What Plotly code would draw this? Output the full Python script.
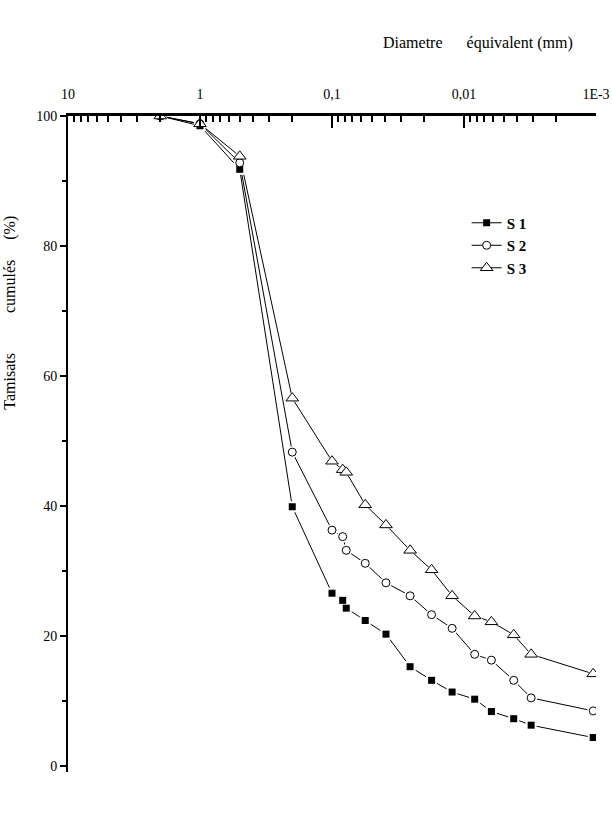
import plotly.graph_objects as go

# Data
diam = [2, 1, 0.5, 0.2, 0.1, 0.083, 0.078, 0.056, 0.039, 0.0256, 0.0176,
        0.0123, 0.0083, 0.0062, 0.0042, 0.0031, 0.00105]
s1 = [100, 98.5, 91.8, 39.9, 26.6, 25.5, 24.3, 22.4, 20.3, 15.3, 13.2,
      11.4, 10.3, 8.4, 7.3, 6.3, 4.4]
s2 = [100, 98.8, 92.8, 48.3, 36.3, 35.3, 33.2, 31.2, 28.2, 26.2, 23.3,
      21.2, 17.2, 16.3, 13.2, 10.5, 8.5]
s3 = [100, 98.8, 93.8, 56.6, 46.9, 45.6, 45.2, 40.2, 37.1, 33.2, 30.2,
      26.2, 23.1, 22.2, 20.2, 17.2, 14.2]

series_names = ["S 1", "S 2", "S 3"]
series_vals = [s1, s2, s3]

x_tickvals = [10, 1, 0.1, 0.01, 0.001]
x_ticktext = ["10", "1", "0,1", "0,01", "1E-3"]
y_tickvals = [0, 20, 40, 60, 80, 100]

FONT = "Liberation Serif, Times New Roman, serif"
styles = [
    dict(symbol="square", size=7, color="black", line=dict(color="black", width=0)),
    dict(symbol="circle", size=8, color="white", line=dict(color="black", width=1)),
    dict(symbol="triangle-up", size=11, color="white", line=dict(color="black", width=1)),
]
gap_sizes = [11, 12, 14]

fig = go.Figure()

# lines
for name, vals in zip(series_names, series_vals):
    fig.add_trace(go.Scatter(x=diam, y=vals, mode="lines",
                             line=dict(color="black", width=1),
                             showlegend=False, hoverinfo="skip"))
# white gaps around markers
for vals, gs, st in zip(series_vals, gap_sizes, styles):
    fig.add_trace(go.Scatter(x=diam, y=vals, mode="markers",
                             marker=dict(symbol=st["symbol"], size=gs, color="white",
                                         line=dict(width=0)),
                             showlegend=False, hoverinfo="skip"))
# markers
for name, vals, st in zip(series_names, series_vals, styles):
    fig.add_trace(go.Scatter(x=diam, y=vals, mode="markers", marker=st,
                             showlegend=False, name=name))
# legend entries
for i, (name, st) in enumerate(zip(series_names, styles)):
    fig.add_trace(go.Scatter(x=[None], y=[None], mode="lines+markers", name=name,
                             marker=st, line=dict(color="black", width=1),
                             legendgroup=f"g{i}"))

minor_x = [m * 10 ** e for e in range(-3, 1) for m in range(2, 10)]

fig.update_layout(
    width=612, height=840,
    margin=dict(l=68, r=16, t=116, b=68),
    paper_bgcolor="white", plot_bgcolor="white",
    font=dict(family=FONT, size=14, color="black"),
    xaxis=dict(
        type="log", range=[1, -3], side="top", automargin=False,
        showgrid=False, zeroline=False,
        showline=True, linecolor="black", linewidth=2.5,
        tickmode="array", tickvals=x_tickvals, ticktext=x_ticktext,
        ticks="inside", ticklen=12, tickwidth=2, tickcolor="black",
        ticklabelstandoff=9,
        tickfont=dict(family=FONT, size=14),
        minor=dict(tickmode="array", tickvals=minor_x, ticks="inside",
                   ticklen=6, tickwidth=1.5, tickcolor="black", showgrid=False),
    ),
    yaxis=dict(
        range=[-0.9, 100], automargin=False,
        showgrid=False, zeroline=False,
        showline=True, linecolor="black", linewidth=2,
        tickmode="array", tickvals=y_tickvals,
        ticks="outside", ticklen=6, tickwidth=2, tickcolor="black",
        tickfont=dict(family=FONT, size=14),
        minor=dict(dtick=10, tick0=0, ticks="outside", ticklen=4,
                   tickwidth=1.5, tickcolor="black", showgrid=False),
    ),
    legend=dict(x=0.755, y=0.862, xanchor="left", yanchor="top",
                font=dict(family=FONT, size=15, weight="bold"),
                itemwidth=30, tracegroupgap=7, bgcolor="rgba(0,0,0,0)",
                traceorder="normal"),
    showlegend=True,
)

fig.add_annotation(
    text="Diametre\u00a0\u00a0\u00a0\u00a0\u00a0\u00a0équivalent (mm)",
    xref="paper", yref="paper", x=0.777, y=1.111,
    xanchor="center", yanchor="middle", showarrow=False,
    font=dict(family=FONT, size=16),
)
fig.add_annotation(
    text="Tamisats\u00a0\u00a0\u00a0\u00a0\u00a0\u00a0\u00a0\u00a0\u00a0\u00a0cumulés\u00a0\u00a0\u00a0\u00a0\u00a0(%)",
    xref="paper", yref="paper", x=-0.11, y=0.70,
    xanchor="center", yanchor="middle", showarrow=False, textangle=-90,
    font=dict(family=FONT, size=16),
)

fig.write_html("out.html")
